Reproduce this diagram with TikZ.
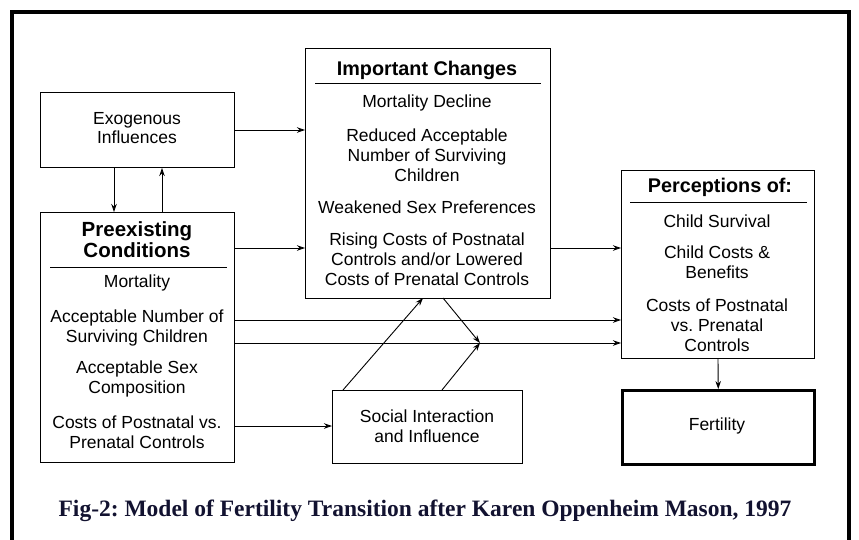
\documentclass[tikz,border=0pt]{standalone}
\usepackage{fontspec}
\setmainfont{Liberation Sans}
\newfontfamily\capfont{Liberation Serif}
\usetikzlibrary{arrows.meta,calc}
\definecolor{capcol}{RGB}{18,18,48}
\frenchspacing
\begin{document}
\begin{tikzpicture}[x=1pt,y=-1pt,
  box/.style={draw, line width=1pt, inner sep=0pt, anchor=north west},
  txt/.style={align=center, font=\fontsize{17.5}{19.8}\selectfont, inner sep=0pt},
  ttl/.style={align=center, font=\bfseries\fontsize{19.8}{21}\selectfont, inner sep=0pt},
  arr/.style={-{Stealth[length=8pt,width=5.5pt]}, line width=0.9pt},
  ln/.style={line width=0.9pt}]
\useasboundingbox (0,0) rectangle (859,539);
\fill[white] (0,0) rectangle (859,539);
% outer frame
\draw[line width=4pt] (12,560) -- (12,12) -- (849,12) -- (849,560);

% boxes
\node[box, minimum width=194pt, minimum height=75pt] (exo) at (40,92) {};
\node[box, minimum width=194pt, minimum height=250pt] (pre) at (40,212) {};
\node[box, minimum width=245pt, minimum height=250pt] (imp) at (305,48) {};
\node[box, minimum width=193pt, minimum height=188pt] (per) at (621,170) {};
\node[box, line width=2.5pt, minimum width=192pt, minimum height=74pt] (fert) at (621,389) {};
\node[box, minimum width=190pt, minimum height=73pt] (soc) at (332,390) {};

% texts
\node[txt] (exoT) at (137,128) {Exogenous\\Influences};
\node[ttl, font=\bfseries\fontsize{20.5}{21}\selectfont] (preT) at (137,240) {Preexisting\\Conditions};
\draw[ln] (50,267) -- (227,267);
\node[txt] (pre1) at (137,283) {Mortality};
\node[txt] (pre2) at (137,328) {Acceptable Number of\\Surviving Children};
\node[txt] (pre3) at (137,379) {Acceptable Sex\\Composition};
\node[txt] (pre4) at (137,432) {Costs of Postnatal vs.\\Prenatal Controls};

\node[ttl] (impT) at (427,70) {Important Changes};
\draw[ln] (315,83) -- (541,83);
\node[txt] (imp1) at (427,103) {Mortality Decline};
\node[txt] (imp2) at (427,155) {Reduced Acceptable\\Number of Surviving\\Children};
\node[txt] (imp3) at (427,207) {Weakened Sex Preferences};
\node[txt] (imp4) at (427,259) {Rising Costs of Postnatal\\Controls and/or Lowered\\Costs of Prenatal Controls};

\node[ttl] (perT) at (720,187) {Perceptions of:};
\draw[ln] (630,202) -- (807,202);
\node[txt] (per1) at (717,221) {Child Survival};
\node[txt] (per2) at (717,262) {Child Costs \&\\Benefits};
\node[txt] (per3) at (717,325) {Costs of Postnatal\\vs. Prenatal\\Controls};

\node[txt] (fertT) at (717,426) {Fertility};
\node[txt] (socT) at (427,426) {Social Interaction\\and Influence};

\node[font=\capfont\bfseries\fontsize{23.5}{26}\selectfont, text=capcol, inner sep=0pt] (cap) at (425,511)
  {Fig-2: Model of Fertility Transition after Karen Oppenheim Mason, 1997};

% helper coordinates
\coordinate (yA) at (0,248);
\coordinate (yB) at (0,320);
\coordinate (yC) at (0,343);
\coordinate (conv) at (480,343);
\coordinate (impB1) at (443,298);
\coordinate (impB2) at (423,298);
\coordinate (socT1) at (343,390);
\coordinate (socT2) at (442,390);
\coordinate (preY) at (0,426);

% connectors
\draw[arr] (exo.east) -- (exo.east -| imp.west);
\draw[arr] (exo.south -| 114,0) -- (pre.north -| 114,0);
\draw[arr] (pre.north -| 162,0) -- (exo.south -| 162,0);
\draw[arr] (pre.east |- yA) -- (imp.west |- yA);
\draw[arr] (imp.east |- yA) -- (per.west |- yA);
\draw[arr] (pre.east |- yB) -- (per.west |- yB);
\draw[arr] (pre.east |- yC) -- (per.west |- yC);
\draw[arr] (pre.east |- preY) -- (soc.west |- preY);
\draw[arr] (impB1) -- (conv);
\draw[arr] (socT2) -- (conv);
\draw[arr] (socT1) -- (impB2);
\draw[arr] (per.south) -- (fert.north);
\end{tikzpicture}
\end{document}
